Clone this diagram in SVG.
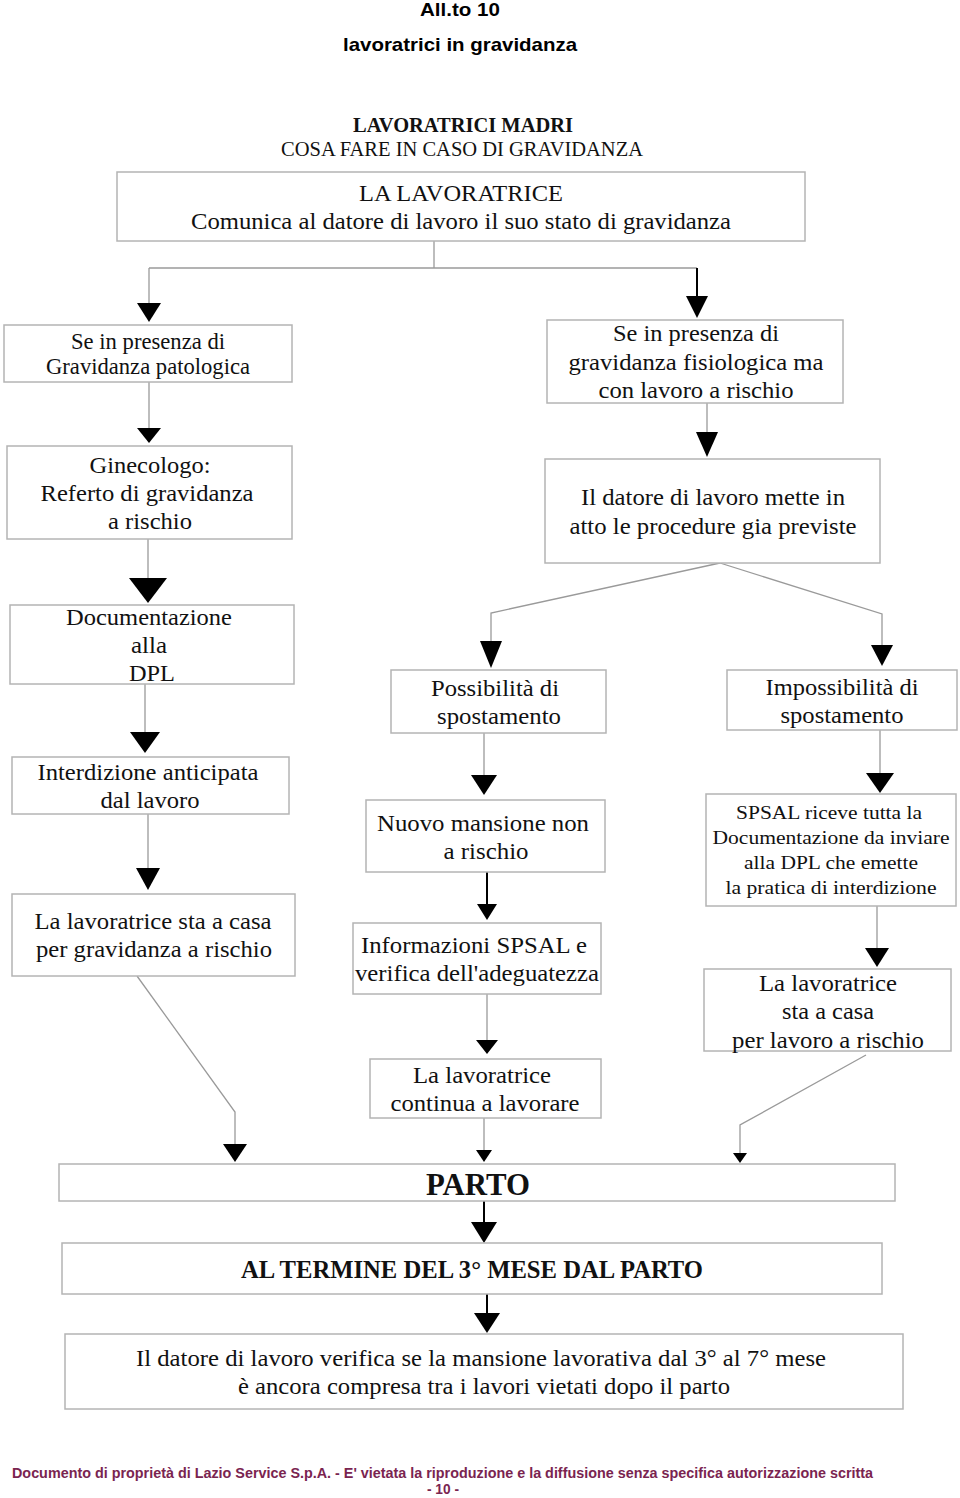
<svg xmlns="http://www.w3.org/2000/svg" width="960" height="1498" viewBox="0 0 960 1498">
<style>
.bx{fill:#fff;stroke:#b4b4b4;stroke-width:1.5}
.t{font-family:"Liberation Serif","Times New Roman",serif;font-size:23px;fill:#111;text-anchor:middle}
.ts{font-size:19.5px}
.tb{font-weight:bold}
.h{font-family:"Liberation Sans",Arial,sans-serif;font-weight:bold;font-size:19px;fill:#000;text-anchor:middle}
.ln{fill:none;stroke:#9a9a9a;stroke-width:1.3}
.lk{fill:none;stroke:#000;stroke-width:2}
.ah{fill:#000}
.ft{font-family:"Liberation Sans",Arial,sans-serif;font-weight:bold;font-size:15.5px;fill:#7a2450}
</style>
<rect width="960" height="1498" fill="#fff"/>
<g id="header">
<text class="h" x="460" y="16" textLength="80" lengthAdjust="spacingAndGlyphs">All.to 10</text>
<text class="h" x="460" y="51" textLength="234" lengthAdjust="spacingAndGlyphs">lavoratrici in gravidanza</text>
<text class="t tb" x="463" y="132" style="font-size:20px" textLength="220" lengthAdjust="spacingAndGlyphs">LAVORATRICI MADRI</text>
<text class="t" x="462" y="156" style="font-size:20px" textLength="362" lengthAdjust="spacingAndGlyphs">COSA FARE IN CASO DI GRAVIDANZA</text>
</g>
<g id="connectors">
<polyline class="ln" points="434,241 434,268"/>
<polyline class="ln" points="149,268 697,268"/>
<polyline class="ln" points="149,268 149,305"/>
<polygon class="ah" points="137,303 161,303 149,322"/>
<polyline class="lk" points="697,268 697,298"/>
<polygon class="ah" points="686,296 708,296 697,318"/>
<polyline class="ln" points="149,382 149,430"/>
<polygon class="ah" points="137,428 161,428 149,443"/>
<polyline class="ln" points="707,403 707,434"/>
<polygon class="ah" points="696,432 718,432 707,457"/>
<polyline class="ln" points="148,539 148,580"/>
<polygon class="ah" points="129,578 167,578 148,603"/>
<polyline class="ln" points="720,563 491,613 491,643"/>
<polygon class="ah" points="480,641 502,641 491,668"/>
<polyline class="ln" points="720,563 882,614 882,647"/>
<polygon class="ah" points="871,645 893,645 882,666"/>
<polyline class="ln" points="145,684 145,734"/>
<polygon class="ah" points="130,732 160,732 145,753"/>
<polyline class="ln" points="148,814 148,870"/>
<polygon class="ah" points="136,868 160,868 148,890"/>
<polyline class="ln" points="137,976 235,1112 235,1146"/>
<polygon class="ah" points="223,1144 247,1144 235,1162"/>
<polyline class="ln" points="484,733 484,777"/>
<polygon class="ah" points="471,775 497,775 484,795"/>
<polyline class="lk" points="487,872 487,906"/>
<polygon class="ah" points="477,904 497,904 487,920"/>
<polyline class="ln" points="487,994 487,1042"/>
<polygon class="ah" points="476,1040 498,1040 487,1054"/>
<polyline class="ln" points="484,1118 484,1152"/>
<polygon class="ah" points="476,1150 492,1150 484,1162"/>
<polyline class="ln" points="880,730 880,775"/>
<polygon class="ah" points="866,773 894,773 880,793"/>
<polyline class="ln" points="877,906 877,950"/>
<polygon class="ah" points="865,948 889,948 877,967"/>
<polyline class="ln" points="866,1055 740,1125 740,1155"/>
<polygon class="ah" points="733,1153 747,1153 740,1163"/>
<polyline class="lk" points="484,1201 484,1224"/>
<polygon class="ah" points="471,1222 497,1222 484,1243"/>
<polyline class="lk" points="487,1294 487,1315"/>
<polygon class="ah" points="474,1313 500,1313 487,1333"/>
</g>
<g id="n-lavoratrice">
<rect class="bx" x="117" y="172" width="688" height="69"/>
<text class="t" x="461" y="201" style="font-size:24px" textLength="204" lengthAdjust="spacingAndGlyphs">LA LAVORATRICE</text>
<text class="t" x="461" y="229" style="font-size:24px" textLength="540" lengthAdjust="spacingAndGlyphs">Comunica al datore di lavoro il suo stato di gravidanza</text>
</g>
<g id="n-patologica">
<rect class="bx" x="4" y="325" width="288" height="57"/>
<text class="t" x="148" y="349" textLength="154" lengthAdjust="spacingAndGlyphs">Se in presenza di</text>
<text class="t" x="148" y="374" textLength="204" lengthAdjust="spacingAndGlyphs">Gravidanza patologica</text>
</g>
<g id="n-fisiologica">
<rect class="bx" x="547" y="320" width="296" height="83"/>
<text class="t" x="696" y="341" textLength="166" lengthAdjust="spacingAndGlyphs">Se in presenza di</text>
<text class="t" x="696" y="370" textLength="255" lengthAdjust="spacingAndGlyphs">gravidanza fisiologica ma</text>
<text class="t" x="696" y="398" textLength="195" lengthAdjust="spacingAndGlyphs">con lavoro a rischio</text>
</g>
<g id="n-ginecologo">
<rect class="bx" x="7" y="446" width="285" height="93"/>
<text class="t" x="150" y="473" textLength="121" lengthAdjust="spacingAndGlyphs">Ginecologo:</text>
<text class="t" x="147" y="501" textLength="213" lengthAdjust="spacingAndGlyphs">Referto di gravidanza</text>
<text class="t" x="150" y="529" textLength="84" lengthAdjust="spacingAndGlyphs">a rischio</text>
</g>
<g id="n-datore">
<rect class="bx" x="545" y="459" width="335" height="104"/>
<text class="t" x="713" y="505" textLength="264" lengthAdjust="spacingAndGlyphs">Il datore di lavoro mette in</text>
<text class="t" x="713" y="534" textLength="287" lengthAdjust="spacingAndGlyphs">atto le procedure gia previste</text>
</g>
<g id="n-documentazione">
<rect class="bx" x="10" y="605" width="284" height="79"/>
<text class="t" x="149" y="625" textLength="166" lengthAdjust="spacingAndGlyphs">Documentazione</text>
<text class="t" x="149" y="653" textLength="36" lengthAdjust="spacingAndGlyphs">alla</text>
<text class="t" x="152" y="681" textLength="46" lengthAdjust="spacingAndGlyphs">DPL</text>
</g>
<g id="n-possibilita">
<rect class="bx" x="391" y="670" width="215" height="63"/>
<text class="t" x="495" y="696" textLength="128" lengthAdjust="spacingAndGlyphs">Possibilità di</text>
<text class="t" x="499" y="724" textLength="124" lengthAdjust="spacingAndGlyphs">spostamento</text>
</g>
<g id="n-impossibilita">
<rect class="bx" x="727" y="670" width="230" height="60"/>
<text class="t" x="842" y="695" textLength="153" lengthAdjust="spacingAndGlyphs">Impossibilità di</text>
<text class="t" x="842" y="723" textLength="123" lengthAdjust="spacingAndGlyphs">spostamento</text>
</g>
<g id="n-interdizione">
<rect class="bx" x="12" y="757" width="277" height="57"/>
<text class="t" x="148" y="780" textLength="221" lengthAdjust="spacingAndGlyphs">Interdizione anticipata</text>
<text class="t" x="150" y="808" textLength="99" lengthAdjust="spacingAndGlyphs">dal lavoro</text>
</g>
<g id="n-casa-gravidanza">
<rect class="bx" x="12" y="894" width="283" height="82"/>
<text class="t" x="153" y="929" textLength="237" lengthAdjust="spacingAndGlyphs">La lavoratrice sta a casa</text>
<text class="t" x="154" y="957" textLength="236" lengthAdjust="spacingAndGlyphs">per gravidanza a rischio</text>
</g>
<g id="n-nuovo">
<rect class="bx" x="366" y="800" width="239" height="72"/>
<text class="t" x="483" y="831" textLength="212" lengthAdjust="spacingAndGlyphs">Nuovo mansione non</text>
<text class="t" x="486" y="859" textLength="85" lengthAdjust="spacingAndGlyphs">a rischio</text>
</g>
<g id="n-informazioni">
<rect class="bx" x="353" y="923" width="248" height="71"/>
<text class="t" x="474" y="953" textLength="226" lengthAdjust="spacingAndGlyphs">Informazioni SPSAL e</text>
<text class="t" x="477" y="981" textLength="244" lengthAdjust="spacingAndGlyphs">verifica dell'adeguatezza</text>
</g>
<g id="n-continua">
<rect class="bx" x="370" y="1059" width="231" height="59"/>
<text class="t" x="482" y="1083" textLength="138" lengthAdjust="spacingAndGlyphs">La lavoratrice</text>
<text class="t" x="485" y="1111" textLength="189" lengthAdjust="spacingAndGlyphs">continua a lavorare</text>
</g>
<g id="n-spsal">
<rect class="bx" x="706" y="794" width="250" height="112"/>
<text class="t ts" x="829" y="819" textLength="186" lengthAdjust="spacingAndGlyphs">SPSAL riceve tutta la</text>
<text class="t ts" x="831" y="844" textLength="237" lengthAdjust="spacingAndGlyphs">Documentazione da inviare</text>
<text class="t ts" x="831" y="869" textLength="174" lengthAdjust="spacingAndGlyphs">alla DPL che emette</text>
<text class="t ts" x="831" y="894" textLength="211" lengthAdjust="spacingAndGlyphs">la pratica di interdizione</text>
</g>
<g id="n-casa-lavoro">
<rect class="bx" x="704" y="969" width="247" height="82"/>
<text class="t" x="828" y="991" textLength="138" lengthAdjust="spacingAndGlyphs">La lavoratrice</text>
<text class="t" x="828" y="1019" textLength="92" lengthAdjust="spacingAndGlyphs">sta a casa</text>
<text class="t" x="828" y="1048" textLength="192" lengthAdjust="spacingAndGlyphs">per lavoro a rischio</text>
</g>
<g id="n-parto">
<rect class="bx" x="59" y="1164" width="836" height="37"/>
<text class="t tb" x="478" y="1195" style="font-size:32px" textLength="104" lengthAdjust="spacingAndGlyphs">PARTO</text>
</g>
<g id="n-termine">
<rect class="bx" x="62" y="1243" width="820" height="51"/>
<text class="t tb" x="472" y="1278" style="font-size:25px" textLength="462" lengthAdjust="spacingAndGlyphs">AL TERMINE DEL 3° MESE DAL PARTO</text>
</g>
<g id="n-verifica">
<rect class="bx" x="65" y="1334" width="838" height="75"/>
<text class="t" x="481" y="1366" textLength="690" lengthAdjust="spacingAndGlyphs">Il datore di lavoro verifica se la mansione lavorativa dal 3° al 7° mese</text>
<text class="t" x="484" y="1394" textLength="492" lengthAdjust="spacingAndGlyphs">è ancora compresa tra i lavori vietati dopo il parto</text>
</g>
<g id="footer">
<text class="ft" x="12" y="1478" textLength="861" lengthAdjust="spacingAndGlyphs">Documento di proprietà di Lazio Service S.p.A. - E' vietata la riproduzione e la diffusione senza specifica autorizzazione scritta</text>
<text class="ft" x="443" y="1494" text-anchor="middle" textLength="32" lengthAdjust="spacingAndGlyphs">- 10 -</text>
</g>
</svg>
